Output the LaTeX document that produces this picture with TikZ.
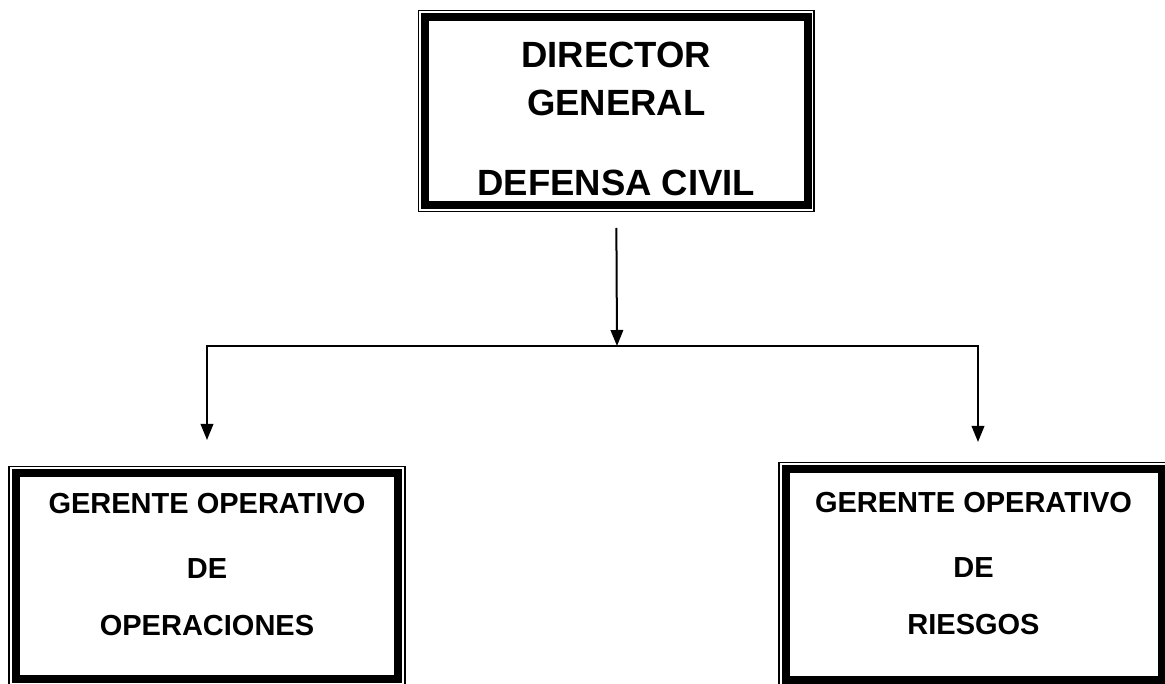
\documentclass[tikz,border=0pt]{standalone}
\usepackage{fontspec}
\setmainfont{Liberation Sans}
\usetikzlibrary{arrows.meta,positioning}

\begin{document}
\begin{tikzpicture}[x=1pt,y=-1pt]
\tikzstyle{frame}=[rectangle, draw=black, fill=white, line width=8pt,
	outer sep=0pt, inner sep=0pt, align=center,
	preaction={draw=black, line width=14.6pt},
	preaction={draw=white, line width=11.4pt},
]
\tikzstyle{link}=[line width=2pt, -{Triangle[length=16pt,width=12.5pt]}]
\useasboundingbox (0,0) rectangle (1165,684);
\node[frame, minimum width=382.5pt, minimum height=188pt,
	font=\fontsize{36.5}{48}\selectfont\bfseries] (dir) at (616.25,111)
	{\rule{0pt}{42pt}DIRECTOR\\GENERAL\\[32pt]DEFENSA CIVIL};
\node[frame, minimum width=382.5pt, minimum height=206pt,
	font=\fontsize{29}{57}\selectfont\bfseries] (ops) at (207,576)
	{GERENTE OPERATIVO\\[8pt]DE\\OPERACIONES\rule[-24pt]{0pt}{24pt}};
\node[frame, minimum width=376pt, minimum height=211pt,
	font=\fontsize{29}{57}\selectfont\bfseries] (ries) at (973.5,574.5)
	{GERENTE OPERATIVO\\[8pt]DE\\RIESGOS\rule[-23pt]{0pt}{23pt}};
\coordinate (split) at (617,346);
\draw[link, shorten <=23pt] (dir.south) -- (split);
\draw[link, shorten >=33pt] (split) -| (ops.north);
\draw[link, shorten >=27pt] (split) -| ([xshift=4.5pt]ries.north);
\end{tikzpicture}
\end{document}
